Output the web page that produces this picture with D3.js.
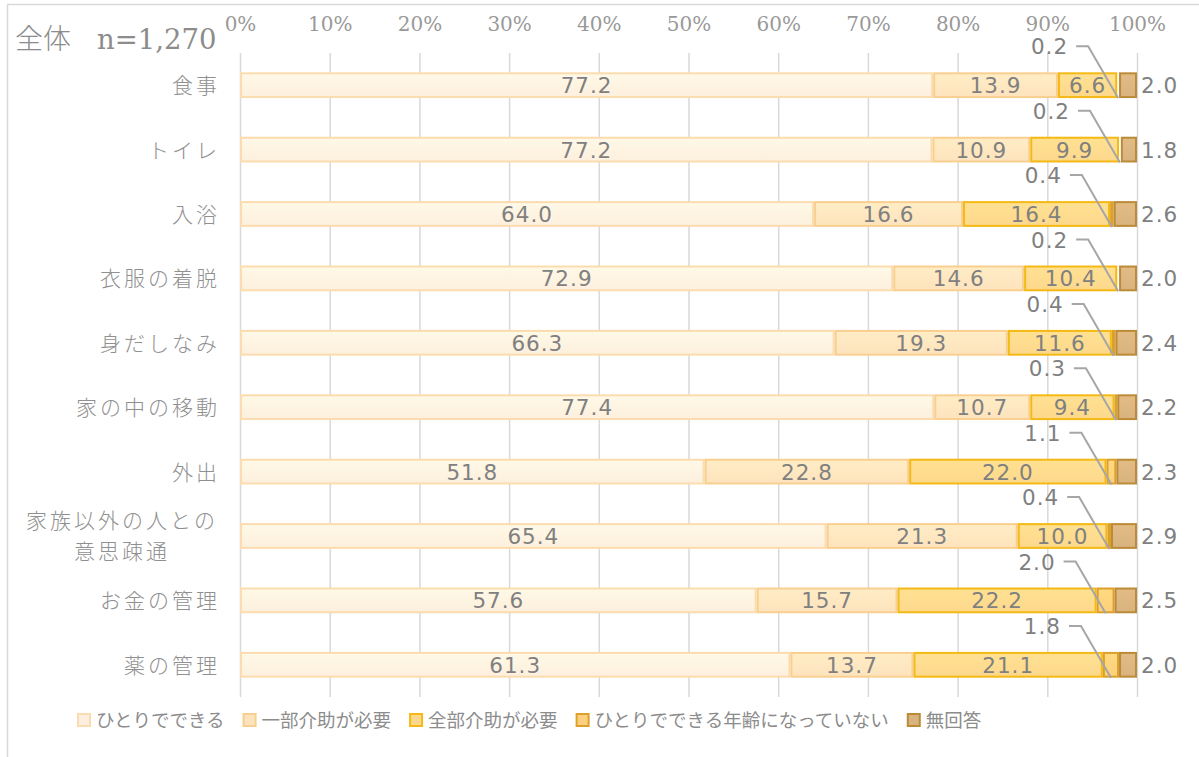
<!DOCTYPE html>
<head>
<meta charset="utf-8">
<title>全体 n=1,270</title>
<script src="https://cdn.jsdelivr.net/npm/d3@7"></script>
<style>
body { margin: 0; background: #fff; }
svg text { fill: #8c8c8c; }
</style>
</head>
<body>
<script>
// categories and series values (percent)
var categories = ["食事", "トイレ", "入浴", "衣服の着脱", "身だしなみ", "家の中の移動", "外出",
  "家族以外の人との\n意思疎通", "お金の管理", "薬の管理"];
var seriesNames = ["ひとりでできる", "一部介助が必要", "全部介助が必要", "ひとりでできる年齢になっていない", "無回答"];
var alone   = [77.2, 77.2, 64.0, 72.9, 66.3, 77.4, 51.8, 65.4, 57.6, 61.3];
var partial = [13.9, 10.9, 16.6, 14.6, 19.3, 10.7, 22.8, 21.3, 15.7, 13.7];
var full    = [6.6, 9.9, 16.4, 10.4, 11.6, 9.4, 22.0, 10.0, 22.2, 21.1];
var tooYoung = [0.2, 0.2, 0.4, 0.2, 0.4, 0.3, 1.1, 0.4, 2.0, 1.8];
var noAnswer = [2.0, 1.8, 2.6, 2.0, 2.4, 2.2, 2.3, 2.9, 2.5, 2.0];
var tickValues = [0, 10, 20, 30, 40, 50, 60, 70, 80, 90, 100];

var fills   = ["#fdefdd", "#fde3bd", "#fdd88c", "#fcd07c", "#d9b37f"];
var strokes = ["#fbdcae", "#f9cf90", "#f4b915", "#dba12c", "#bc8b37"];

var W = 1199, H = 757;
var plotL = 240, plotR = 1137, plotT = 53, plotB = 697;

var svg = d3.select("body").append("svg")
  .attr("width", W)
  .attr("height", H);

// outer frame
svg.append("rect")
  .attr("x", 7.5).attr("y", 4.5)
  .attr("width", W).attr("height", H)
  .style("fill", "none").style("stroke", "#d9d9d9").style("stroke-width", 1.5);

var x = d3.scaleLinear().domain([0, 100]).range([plotL, plotR]);
var y = d3.scaleBand().domain(categories).range([plotT, plotB])
  .paddingInner(0.6).paddingOuter(0.3);

// gridlines
var grid = svg.append("g")
  .attr("transform", "translate(0," + plotT + ")")
  .call(d3.axisBottom(x).tickValues(tickValues).tickSize(plotB - plotT).tickFormat(""));
grid.select(".domain").remove();
grid.selectAll("line").style("stroke", "#d9d9d9").style("stroke-width", 1.5);

// tick labels
var ax = svg.append("g")
  .attr("transform", "translate(0," + plotT + ")")
  .call(d3.axisTop(x).tickValues(tickValues).tickSize(0).tickPadding(22)
    .tickFormat(function(d) { return d + "%"; }));
ax.select(".domain").remove();
ax.selectAll("text")
  .style("font-family", "'DejaVu Serif', serif")
  .style("font-size", "20px")
  .style("fill", "#999");

// title
var title = svg.append("text")
  .attr("x", 15).attr("y", 49);
title.append("tspan").style("font-family", "'Noto Sans CJK JP', sans-serif").style("font-weight", 300)
  .style("font-size", "28px").text("全体");
title.append("tspan").attr("x", 97).style("font-family", "'DejaVu Serif', serif")
  .style("font-size", "27.5px").text("n=1,270");

// category labels
categories.forEach(function(c) {
  var lines = c.split("\n");
  var cy = y(c) + y.bandwidth() / 2;
  var t = svg.append("text")
    .style("font-family", "'Noto Sans CJK JP', sans-serif")
    .style("font-weight", 300)
    .style("font-size", "21px")
    .style("letter-spacing", "3px")
    .style("fill", "#909090");
  if (lines.length == 1) {
    t.attr("x", 220).attr("y", cy + 8).attr("text-anchor", "end").text(c);
  } else {
    t.attr("text-anchor", "middle");
    lines.forEach(function(l, i) {
      t.append("tspan").attr("x", 122).attr("y", cy - 15 + i * 31 + 7).text(l);
    });
  }
});

// stacked data, normalised to 100%
var rows = categories.map(function(c, i) {
  var vals = [alone[i], partial[i], full[i], tooYoung[i], noAnswer[i]];
  var total = d3.sum(vals);
  var acc = 0;
  return vals.map(function(v, k) {
    var s = acc / total * 100;
    acc += v;
    return { cat: c, k: k, v: v, x0: s, x1: acc / total * 100 };
  });
});
var segs = [].concat.apply([], rows);

// gradients for a soft bar look
var defs = svg.append("defs");
fills.forEach(function(f, k) {
  var g = defs.append("linearGradient").attr("id", "g" + k)
    .attr("x1", 0).attr("x2", 0).attr("y1", 0).attr("y2", 1);
  g.append("stop").attr("offset", "0%").attr("stop-color", d3.color(f).brighter(0.12));
  g.append("stop").attr("offset", "100%").attr("stop-color", f);
});

svg.append("g").selectAll("rect")
  .data(segs)
  .enter().append("rect")
  .attr("x", function(d) { return x(d.x0) + 1; })
  .attr("y", function(d) { return y(d.cat) + 1; })
  .attr("width", function(d) { return Math.max(0, x(d.x1) - x(d.x0) - 2); })
  .attr("height", y.bandwidth() - 2)
  .style("fill", function(d) { return "url(#g" + d.k + ")"; })
  .style("stroke", function(d) { return strokes[d.k]; })
  .style("stroke-width", 2);

var labelFont = "'DejaVu Sans', Verdana, sans-serif";

// labels inside the bars (first three series)
svg.append("g").selectAll("text")
  .data(segs.filter(function(d) { return d.k < 3; }))
  .enter().append("text")
  .attr("x", function(d) { return (x(d.x0) + x(d.x1)) / 2; })
  .attr("y", function(d) { return y(d.cat) + y.bandwidth() / 2 + 8; })
  .attr("text-anchor", "middle")
  .style("font-family", labelFont)
  .style("font-size", "21.5px")
  .style("letter-spacing", "1px")
  .style("fill", "#808080")
  .text(function(d) { return d.v.toFixed(1); });

// 無回答: right of the bar
svg.append("g").selectAll("text")
  .data(segs.filter(function(d) { return d.k == 4; }))
  .enter().append("text")
  .attr("x", function(d) { return x(d.x1) + 4; })
  .attr("y", function(d) { return y(d.cat) + y.bandwidth() / 2 + 8; })
  .style("font-family", labelFont)
  .style("font-size", "21.5px")
  .style("letter-spacing", "1px")
  .style("fill", "#808080")
  .text(function(d) { return d.v.toFixed(1); });

// ひとりでできる年齢になっていない: above with leader line
var small = segs.filter(function(d) { return d.k == 3; });
var callouts = svg.append("g");
small.forEach(function(d) {
  var sx = (x(d.x0) + x(d.x1)) / 2;
  var by = y(d.cat);
  var lx = sx - 50, ly = by - 26;
  callouts.append("text")
    .attr("x", lx).attr("y", ly + 8)
    .attr("text-anchor", "end")
    .style("font-family", labelFont)
    .style("font-size", "21.5px")
    .style("letter-spacing", "1px")
    .style("fill", "#808080")
    .text(d.v.toFixed(1));
  callouts.append("path")
    .attr("d", d3.line()([[lx + 8, ly], [lx + 20, ly], [sx, by + y.bandwidth()]]))
    .style("fill", "none")
    .style("stroke", "#a6a6a6")
    .style("stroke-width", 2);
});

// legend
var legend = svg.append("g").attr("transform", "translate(78,720)");
var legX = 0;
seriesNames.forEach(function(n, k) {
  var g = legend.append("g").attr("transform", "translate(" + legX + ",0)");
  g.append("rect")
    .attr("x", 0).attr("y", -6).attr("width", 12).attr("height", 12)
    .style("fill", fills[k]).style("stroke", strokes[k]).style("stroke-width", 2);
  var t = g.append("text")
    .attr("x", 18).attr("y", 7)
    .style("font-family", "'Noto Sans CJK JP', sans-serif")
    .style("font-size", "18.5px")
    .style("fill", "#8c8c8c")
    .text(n);
  legX += 18 + t.node().getComputedTextLength() + 19;
});
</script>
</body>
